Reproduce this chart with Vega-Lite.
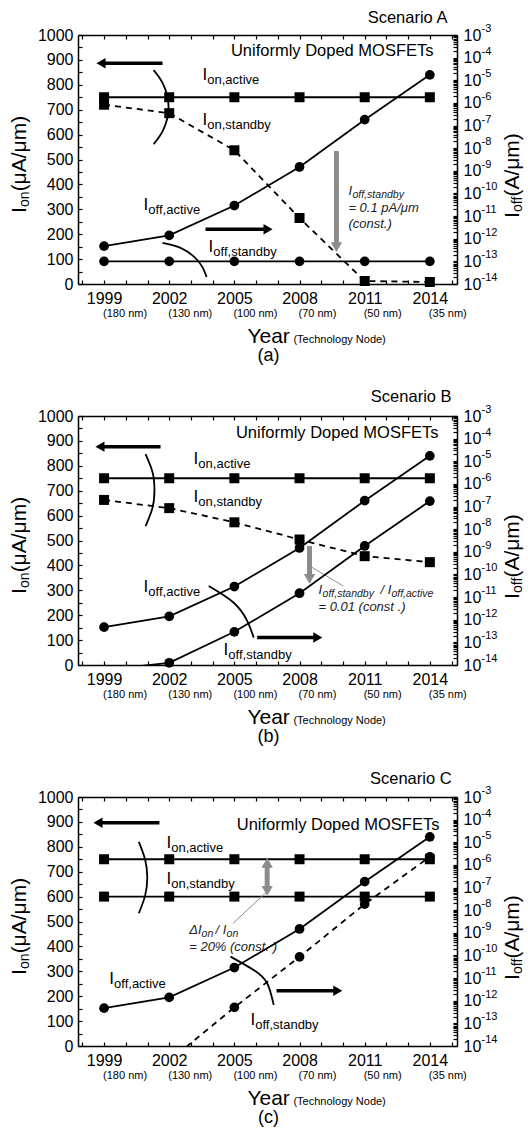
{
"$schema":"https://vega.github.io/schema/vega-lite/v6.json",
"background":"white",
"padding":{"left":9,"top":9,"right":2,"bottom":2},
"bounds":"flush",
"spacing":132,
"config":{"view":{"stroke":null},"font":"Liberation Sans","axis":{"domainColor":"black","domainWidth":1.5,"tickColor":"black","tickWidth":1.2,"tickSize":-4,"labelColor":"black","labelFontSize":16,"labelFont":"Liberation Sans","grid":false,"labelOverlap":false,"labelFlush":false}},
"datasets":{
"ion":[
{"p":"A","s":"act","x":1999,"y":750},{"p":"A","s":"act","x":2002,"y":750},{"p":"A","s":"act","x":2005,"y":750},{"p":"A","s":"act","x":2008,"y":750},{"p":"A","s":"act","x":2011,"y":750},{"p":"A","s":"act","x":2014,"y":750},
{"p":"A","s":"sb","x":1999,"y":720},{"p":"A","s":"sb","x":2002,"y":686},{"p":"A","s":"sb","x":2005,"y":537},{"p":"A","s":"sb","x":2008,"y":265},{"p":"A","s":"sb","x":2011,"y":12},{"p":"A","s":"sb","x":2014,"y":8},
{"p":"B","s":"act","x":1999,"y":750},{"p":"B","s":"act","x":2002,"y":750},{"p":"B","s":"act","x":2005,"y":750},{"p":"B","s":"act","x":2008,"y":750},{"p":"B","s":"act","x":2011,"y":750},{"p":"B","s":"act","x":2014,"y":750},
{"p":"B","s":"sb","x":1999,"y":663},{"p":"B","s":"sb","x":2002,"y":630},{"p":"B","s":"sb","x":2005,"y":573},{"p":"B","s":"sb","x":2008,"y":504},{"p":"B","s":"sb","x":2011,"y":437},{"p":"B","s":"sb","x":2014,"y":413},
{"p":"C","s":"act","x":1999,"y":750},{"p":"C","s":"act","x":2002,"y":750},{"p":"C","s":"act","x":2005,"y":750},{"p":"C","s":"act","x":2008,"y":750},{"p":"C","s":"act","x":2011,"y":750},{"p":"C","s":"act","x":2014,"y":750},
{"p":"C","s":"sb","x":1999,"y":600},{"p":"C","s":"sb","x":2002,"y":600},{"p":"C","s":"sb","x":2005,"y":600},{"p":"C","s":"sb","x":2008,"y":600},{"p":"C","s":"sb","x":2011,"y":600},{"p":"C","s":"sb","x":2014,"y":600}
],
"ioff":[
{"p":"A","s":"act","x":1999,"y":4.7e-13},{"p":"A","s":"act","x":2002,"y":1.4e-12},{"p":"A","s":"act","x":2005,"y":2.92e-11},{"p":"A","s":"act","x":2008,"y":1.48e-9},{"p":"A","s":"act","x":2011,"y":1.82e-7},{"p":"A","s":"act","x":2014,"y":1.74e-5},
{"p":"A","s":"sb","x":1999,"y":1e-13},{"p":"A","s":"sb","x":2002,"y":1e-13},{"p":"A","s":"sb","x":2005,"y":1e-13},{"p":"A","s":"sb","x":2008,"y":1e-13},{"p":"A","s":"sb","x":2011,"y":1e-13},{"p":"A","s":"sb","x":2014,"y":1e-13},
{"p":"B","s":"act","x":1999,"y":4.7e-13},{"p":"B","s":"act","x":2002,"y":1.4e-12},{"p":"B","s":"act","x":2005,"y":2.92e-11},{"p":"B","s":"act","x":2008,"y":1.48e-9},{"p":"B","s":"act","x":2011,"y":1.82e-7},{"p":"B","s":"act","x":2014,"y":1.74e-5},
{"p":"B","s":"sb","x":1999,"y":6e-15},{"p":"B","s":"sb","x":2002,"y":1.25e-14},{"p":"B","s":"sb","x":2005,"y":2.92e-13},{"p":"B","s":"sb","x":2008,"y":1.48e-11},{"p":"B","s":"sb","x":2011,"y":1.82e-9},{"p":"B","s":"sb","x":2014,"y":1.74e-7},
{"p":"C","s":"act","x":1999,"y":4.7e-13},{"p":"C","s":"act","x":2002,"y":1.4e-12},{"p":"C","s":"act","x":2005,"y":2.92e-11},{"p":"C","s":"act","x":2008,"y":1.48e-9},{"p":"C","s":"act","x":2011,"y":1.82e-7},{"p":"C","s":"act","x":2014,"y":1.74e-5},
{"p":"C","s":"sb","x":2002,"y":2.2e-15},{"p":"C","s":"sb","x":2005,"y":5.07e-13},{"p":"C","s":"sb","x":2008,"y":8.7e-11},{"p":"C","s":"sb","x":2011,"y":1.86e-8},{"p":"C","s":"sb","x":2014,"y":2.29e-6}
],
"arc":[
{"p":"A","id":"b","i":0,"x":2001.28,"y":859},{"p":"A","id":"b","i":1,"x":2001.72,"y":803},{"p":"A","id":"b","i":2,"x":2001.97,"y":711},{"p":"A","id":"b","i":3,"x":2001.72,"y":618},{"p":"A","id":"b","i":4,"x":2001.28,"y":562},
{"p":"A","id":"c","i":0,"x":2001.69,"y":165},{"p":"A","id":"c","i":1,"x":2002.52,"y":145},{"p":"A","id":"c","i":2,"x":2003.16,"y":108},{"p":"A","id":"c","i":3,"x":2003.53,"y":68},{"p":"A","id":"c","i":4,"x":2003.72,"y":28},
{"p":"B","id":"b","i":0,"x":2000.91,"y":847},{"p":"B","id":"b","i":1,"x":2001.23,"y":775},{"p":"B","id":"b","i":2,"x":2001.32,"y":703},{"p":"B","id":"b","i":3,"x":2001.23,"y":631},{"p":"B","id":"b","i":4,"x":2000.91,"y":558},
{"p":"B","id":"c","i":0,"x":2003.82,"y":317},{"p":"B","id":"c","i":1,"x":2004.97,"y":250},{"p":"B","id":"c","i":2,"x":2005.59,"y":177},{"p":"B","id":"c","i":3,"x":2005.89,"y":110},
{"p":"C","id":"b","i":0,"x":2000.6,"y":820},{"p":"C","id":"b","i":1,"x":2000.89,"y":749},{"p":"C","id":"b","i":2,"x":2000.99,"y":677},{"p":"C","id":"b","i":3,"x":2000.89,"y":604},{"p":"C","id":"b","i":4,"x":2000.6,"y":533},
{"p":"C","id":"c","i":0,"x":2004.82,"y":359},{"p":"C","id":"c","i":1,"x":2005.89,"y":305},{"p":"C","id":"c","i":2,"x":2006.51,"y":252},{"p":"C","id":"c","i":3,"x":2006.81,"y":165}
],
"rul":[
{"p":"A","k":"blk","x":1998.95,"x2":2001.69,"y":887,"y2":887},{"p":"A","k":"blk","x":2003.67,"x2":2006.45,"y":220,"y2":220},{"p":"A","k":"gry","x":2009.7,"x2":2009.7,"y":534,"y2":155},
{"p":"B","k":"blk","x":1998.9,"x2":2001.6,"y":877,"y2":877},{"p":"B","k":"blk","x":2006.05,"x2":2008.75,"y":110,"y2":110},{"p":"B","k":"gry","x":2008.46,"x2":2008.46,"y":478,"y2":352},{"p":"B","k":"thin","x":2008.46,"x2":2010.02,"y":398,"y2":317},
{"p":"C","k":"blk","x":1998.81,"x2":2001.55,"y":897,"y2":897},{"p":"C","k":"blk","x":2006.94,"x2":2009.66,"y":222,"y2":222},{"p":"C","k":"gry","x":2006.51,"x2":2006.51,"y":630,"y2":730},{"p":"C","k":"thin","x":2006.51,"x2":2004.93,"y":621,"y2":492}
],
"shp":[
{"p":"A","k":"L","x":1998.86,"y":887},{"p":"A","k":"R","x":2006.55,"y":220},{"p":"A","k":"GD","x":2009.7,"y":148},
{"p":"B","k":"L","x":1998.81,"y":877},{"p":"B","k":"R","x":2008.84,"y":110},{"p":"B","k":"GD","x":2008.46,"y":346},
{"p":"C","k":"L","x":1998.72,"y":897},{"p":"C","k":"R","x":2009.76,"y":222},{"p":"C","k":"GU","x":2006.51,"y":736},{"p":"C","k":"GD","x":2006.51,"y":623}
],
"exp":[
{"x":2016.38,"y":1e-3,"t":"-3"},{"x":2016.38,"y":1e-4,"t":"-4"},{"x":2016.38,"y":1e-5,"t":"-5"},{"x":2016.38,"y":1e-6,"t":"-6"},{"x":2016.38,"y":1e-7,"t":"-7"},{"x":2016.38,"y":1e-8,"t":"-8"},{"x":2016.38,"y":1e-9,"t":"-9"},{"x":2016.38,"y":1e-10,"t":"-10"},{"x":2016.38,"y":1e-11,"t":"-11"},{"x":2016.38,"y":1e-12,"t":"-12"},{"x":2016.38,"y":1e-13,"t":"-13"},{"x":2016.38,"y":1e-14,"t":"-14"}
],
"txt":[
{"k":"nm","p":"*","x":1999,"y":-120,"t":"(180 nm)"},{"k":"nm","p":"*","x":2002,"y":-120,"t":"(130 nm)"},{"k":"nm","p":"*","x":2005,"y":-120,"t":"(100 nm)"},{"k":"nm","p":"*","x":2008,"y":-120,"t":"(70 nm)"},{"k":"nm","p":"*","x":2011,"y":-120,"t":"(50 nm)"},{"k":"nm","p":"*","x":2014,"y":-120,"t":"(35 nm)"},
{"k":"yr","p":"*","x":2005.6,"y":-237,"t":"Year"},{"k":"tn","p":"*","x":2007.72,"y":-237,"t":"(Technology Node)"},
{"k":"rot","p":"*","x":1995.15,"y":285,"t":"I"},{"k":"rots","p":"*","x":1995.15,"y":309,"t":"on"},{"k":"rot","p":"*","x":1995.15,"y":372,"t":"(μA/μm)"},
{"k":"rot","p":"*","x":2017.85,"y":265,"t":"I"},{"k":"rots","p":"*","x":2017.85,"y":289,"t":"off"},{"k":"rot","p":"*","x":2017.85,"y":351,"t":"(A/μm)"},
{"k":"lab","p":"A","x":2003.53,"y":840,"t":"I"},{"k":"lab","p":"A","x":2003.53,"y":657,"t":"I"},{"k":"lab","p":"A","x":2000.82,"y":318,"t":"I"},{"k":"lab","p":"A","x":2003.81,"y":150,"t":"I"},
{"k":"sub","p":"A","x":2003.75,"y":840,"t":"on,active"},{"k":"sub","p":"A","x":2003.75,"y":657,"t":"on,standby"},{"k":"sub","p":"A","x":2001.04,"y":318,"t":"off,active"},{"k":"sub","p":"A","x":2004.03,"y":150,"t":"off,standby"},
{"k":"it","p":"A","x":2010.25,"y":373,"t":"I"},{"k":"it","p":"A","x":2010.25,"y":305,"t":"= 0.1 pA/μm"},{"k":"it","p":"A","x":2010.25,"y":241,"t":"(const.)"},
{"k":"its","p":"A","x":2010.44,"y":373,"t":"off,standby"},
{"k":"rt","p":"A","x":2014.17,"y":936,"t":"Uniformly Doped MOSFETs"},{"k":"rt","p":"A","x":2014.81,"y":1070,"t":"Scenario A"},
{"k":"cap","p":"A","x":2006.57,"y":-289,"t":"(a)"},
{"k":"lab","p":"B","x":2003.12,"y":829,"t":"I"},{"k":"lab","p":"B","x":2003.12,"y":675,"t":"I"},{"k":"lab","p":"B","x":2000.82,"y":313,"t":"I"},{"k":"lab","p":"B","x":2004.5,"y":60,"t":"I"},
{"k":"sub","p":"B","x":2003.34,"y":829,"t":"on,active"},{"k":"sub","p":"B","x":2003.34,"y":675,"t":"on,standby"},{"k":"sub","p":"B","x":2001.04,"y":313,"t":"off,active"},{"k":"sub","p":"B","x":2004.72,"y":60,"t":"off,standby"},
{"k":"it","p":"B","x":2008.87,"y":303,"t":"I"},{"k":"it","p":"B","x":2011.73,"y":303,"t":"/ I"},{"k":"it","p":"B","x":2008.87,"y":233,"t":"= 0.01 (const .)"},
{"k":"its","p":"B","x":2009.06,"y":303,"t":"off,standby"},{"k":"its","p":"B","x":2012.23,"y":303,"t":"off,active"},
{"k":"rt","p":"B","x":2014.4,"y":930,"t":"Uniformly Doped MOSFETs"},{"k":"rt","p":"B","x":2015.0,"y":1075,"t":"Scenario B"},
{"k":"cap","p":"B","x":2006.57,"y":-289,"t":"(b)"},
{"k":"lab","p":"C","x":2001.87,"y":816,"t":"I"},{"k":"lab","p":"C","x":2001.87,"y":669,"t":"I"},{"k":"lab","p":"C","x":1999.24,"y":271,"t":"I"},{"k":"lab","p":"C","x":2005.74,"y":104,"t":"I"},
{"k":"sub","p":"C","x":2002.09,"y":816,"t":"on,active"},{"k":"sub","p":"C","x":2002.09,"y":669,"t":"on,standby"},{"k":"sub","p":"C","x":1999.46,"y":271,"t":"off,active"},{"k":"sub","p":"C","x":2005.96,"y":104,"t":"off,standby"},
{"k":"it","p":"C","x":2002.92,"y":466,"t":"ΔI"},{"k":"it","p":"C","x":2004.13,"y":466,"t":"/ I"},{"k":"it","p":"C","x":2002.92,"y":398,"t":"= 20% (const. )"},
{"k":"its","p":"C","x":2003.49,"y":466,"t":"on"},{"k":"its","p":"C","x":2004.64,"y":466,"t":"on"},
{"k":"rt","p":"C","x":2014.44,"y":887,"t":"Uniformly Doped MOSFETs"},{"k":"rt","p":"C","x":2015.0,"y":1074,"t":"Scenario C"},
{"k":"cap","p":"C","x":2006.57,"y":-289,"t":"(c)"}
]
},
"vconcat":[
{"width":379,"height":249,
"resolve":{"scale":{"y":"independent"},"axis":{"x":"independent","y":"independent"}},
"layer":[
{"encoding":{
"x":{"field":"x","type":"quantitative","scale":{"domain":[1997.8,2015.25],"nice":false,"zero":false},"axis":{"orient":"bottom","title":null,"values":[1998,1999,2000,2001,2002,2003,2004,2005,2006,2007,2008,2009,2010,2011,2012,2013,2014,2015],"format":"d","labelExpr":"(datum.value-1999)%3==0 ? datum.label : ''","labelPadding":10}},
"y":{"field":"y","type":"quantitative","scale":{"domain":[0,1000],"nice":false,"zero":false},"axis":{"orient":"left","title":null,"values":[0,50,100,150,200,250,300,350,400,450,500,550,600,650,700,750,800,850,900,950,1000],"format":"d","labelExpr":"datum.value%100==0 ? datum.label : ''","labelPadding":9}}},
"layer":[
{"data":{"name":"ion"},"transform":[{"filter":"datum.p=='A' && datum.s=='act'"}],"mark":{"type":"line","color":"black","strokeWidth":1.8},"encoding":{"detail":{"field":"s"}}},
{"data":{"name":"ion"},"transform":[{"filter":"datum.p=='A' && datum.s=='sb'"}],"mark":{"type":"line","color":"black","strokeWidth":1.8,"strokeDash":[6,5]},"encoding":{"detail":{"field":"s"}}},
{"data":{"name":"ion"},"transform":[{"filter":"datum.p=='A'"}],"mark":{"type":"point","shape":"square","filled":true,"size":100,"color":"black","opacity":1}},
{"data":{"name":"arc"},"transform":[{"filter":"datum.p=='A'"}],"mark":{"type":"line","color":"black","strokeWidth":1.8,"interpolate":"natural"},"encoding":{"detail":{"field":"id"},"order":{"field":"i"}}},
{"data":{"name":"rul"},"transform":[{"filter":"datum.p=='A' && datum.k=='blk'"}],"mark":{"type":"rule","color":"black","strokeWidth":3.5},"encoding":{"x2":{"field":"x2"},"y2":{"field":"y2"}}},
{"data":{"name":"rul"},"transform":[{"filter":"datum.p=='A' && datum.k=='gry'"}],"mark":{"type":"rule","color":"#8c8c8c","strokeWidth":5},"encoding":{"x2":{"field":"x2"},"y2":{"field":"y2"}}},
{"data":{"name":"rul"},"transform":[{"filter":"datum.p=='A' && datum.k=='thin'"}],"mark":{"type":"rule","color":"#8c8c8c","strokeWidth":1},"encoding":{"x2":{"field":"x2"},"y2":{"field":"y2"}}},
{"data":{"name":"shp"},"transform":[{"filter":"datum.p=='A' && datum.k=='L'"}],"mark":{"type":"point","shape":"triangle-left","filled":true,"size":110,"color":"black","opacity":1}},
{"data":{"name":"shp"},"transform":[{"filter":"datum.p=='A' && datum.k=='R'"}],"mark":{"type":"point","shape":"triangle-right","filled":true,"size":110,"color":"black","opacity":1}},
{"data":{"name":"shp"},"transform":[{"filter":"datum.p=='A' && datum.k=='GU'"}],"mark":{"type":"point","shape":"triangle-up","filled":true,"size":130,"color":"#8c8c8c","opacity":1}},
{"data":{"name":"shp"},"transform":[{"filter":"datum.p=='A' && datum.k=='GD'"}],"mark":{"type":"point","shape":"triangle-down","filled":true,"size":130,"color":"#8c8c8c","opacity":1}},
{"data":{"name":"txt"},"transform":[{"filter":"(datum.p=='A'||datum.p=='*') && datum.k=='lab'"}],"mark":{"type":"text","align":"left","baseline":"middle","fontSize":17,"color":"black"},"encoding":{"text":{"field":"t"}}},
{"data":{"name":"txt"},"transform":[{"filter":"(datum.p=='A'||datum.p=='*') && datum.k=='sub'"}],"mark":{"type":"text","align":"left","baseline":"middle","fontSize":13,"dy":5,"color":"black"},"encoding":{"text":{"field":"t"}}},
{"data":{"name":"txt"},"transform":[{"filter":"(datum.p=='A'||datum.p=='*') && datum.k=='it'"}],"mark":{"type":"text","align":"left","baseline":"middle","fontSize":13,"fontStyle":"italic","color":"#222"},"encoding":{"text":{"field":"t"}}},
{"data":{"name":"txt"},"transform":[{"filter":"(datum.p=='A'||datum.p=='*') && datum.k=='its'"}],"mark":{"type":"text","align":"left","baseline":"middle","fontSize":10.5,"fontStyle":"italic","dy":4,"color":"#222"},"encoding":{"text":{"field":"t"}}},
{"data":{"name":"txt"},"transform":[{"filter":"(datum.p=='A'||datum.p=='*') && datum.k=='rt'"}],"mark":{"type":"text","align":"right","baseline":"middle","fontSize":16.5,"color":"black"},"encoding":{"text":{"field":"t"}}},
{"data":{"name":"txt"},"transform":[{"filter":"(datum.p=='A'||datum.p=='*') && datum.k=='cap'"}],"mark":{"type":"text","align":"center","baseline":"middle","fontSize":18,"color":"black"},"encoding":{"text":{"field":"t"}}},
{"data":{"name":"txt"},"transform":[{"filter":"(datum.p=='A'||datum.p=='*') && datum.k=='nm'"}],"mark":{"type":"text","align":"left","baseline":"middle","fontSize":11,"dx":-1,"color":"black"},"encoding":{"text":{"field":"t"}}},
{"data":{"name":"txt"},"transform":[{"filter":"(datum.p=='A'||datum.p=='*') && datum.k=='yr'"}],"mark":{"type":"text","align":"left","baseline":"alphabetic","fontSize":21,"color":"black"},"encoding":{"text":{"field":"t"}}},
{"data":{"name":"txt"},"transform":[{"filter":"(datum.p=='A'||datum.p=='*') && datum.k=='tn'"}],"mark":{"type":"text","align":"left","baseline":"alphabetic","fontSize":11,"color":"black"},"encoding":{"text":{"field":"t"}}},
{"data":{"name":"txt"},"transform":[{"filter":"(datum.p=='A'||datum.p=='*') && datum.k=='rot'"}],"mark":{"type":"text","align":"left","baseline":"middle","angle":270,"fontSize":21,"color":"black"},"encoding":{"text":{"field":"t"}}},
{"data":{"name":"txt"},"transform":[{"filter":"(datum.p=='A'||datum.p=='*') && datum.k=='rots'"}],"mark":{"type":"text","align":"left","baseline":"middle","angle":270,"fontSize":14,"dy":5,"color":"black"},"encoding":{"text":{"field":"t"}}}
]},
{"encoding":{
"x":{"field":"x","type":"quantitative","scale":{"domain":[1997.8,2015.25],"nice":false,"zero":false},"axis":{"orient":"top","title":null,"values":[1998,1999,2000,2001,2002,2003,2004,2005,2006,2007,2008,2009,2010,2011,2012,2013,2014,2015],"labels":false}},
"y":{"field":"y","type":"quantitative","scale":{"type":"log","domain":[1e-14,1e-3],"nice":false},"axis":{"orient":"right","title":null,"values":[1e-14,2e-14,3e-14,4e-14,5e-14,6e-14,7e-14,8e-14,9e-14,1e-13,2e-13,3e-13,4e-13,5e-13,6e-13,7e-13,8e-13,9e-13,1e-12,2e-12,3e-12,4e-12,5e-12,6e-12,7e-12,8e-12,9e-12,1e-11,2e-11,3e-11,4e-11,5e-11,6e-11,7e-11,8e-11,9e-11,1e-10,2e-10,3e-10,4e-10,5e-10,6e-10,7e-10,8e-10,9e-10,1e-9,2e-9,3e-9,4e-9,5e-9,6e-9,7e-9,8e-9,9e-9,1e-8,2e-8,3e-8,4e-8,5e-8,6e-8,7e-8,8e-8,9e-8,1e-7,2e-7,3e-7,4e-7,5e-7,6e-7,7e-7,8e-7,9e-7,1e-6,2e-6,3e-6,4e-6,5e-6,6e-6,7e-6,8e-6,9e-6,1e-5,2e-5,3e-5,4e-5,5e-5,6e-5,7e-5,8e-5,9e-5,1e-4,2e-4,3e-4,4e-4,5e-4,6e-4,7e-4,8e-4,9e-4,1e-3],"labelExpr":"abs(log(datum.value)/LN10 - round(log(datum.value)/LN10)) < 0.01 ? '10' : ''","labelPadding":10}}},
"layer":[
{"data":{"name":"ioff"},"transform":[{"filter":"datum.p=='A'"}],"mark":{"type":"line","color":"black","strokeWidth":1.8,"clip":true},"encoding":{"detail":{"field":"s"}}},
{"data":{"name":"ioff"},"transform":[{"filter":"datum.p=='A' && datum.y>=1e-14"}],"mark":{"type":"point","shape":"circle","filled":true,"size":95,"color":"black","opacity":1}},
{"data":{"name":"exp"},"mark":{"type":"text","align":"left","baseline":"middle","fontSize":11,"dy":-6,"color":"black"},"encoding":{"text":{"field":"t"}}}
]}
]},
{"width":379,"height":249,
"resolve":{"scale":{"y":"independent"},"axis":{"x":"independent","y":"independent"}},
"layer":[
{"encoding":{
"x":{"field":"x","type":"quantitative","scale":{"domain":[1997.8,2015.25],"nice":false,"zero":false},"axis":{"orient":"bottom","title":null,"values":[1998,1999,2000,2001,2002,2003,2004,2005,2006,2007,2008,2009,2010,2011,2012,2013,2014,2015],"format":"d","labelExpr":"(datum.value-1999)%3==0 ? datum.label : ''","labelPadding":10}},
"y":{"field":"y","type":"quantitative","scale":{"domain":[0,1000],"nice":false,"zero":false},"axis":{"orient":"left","title":null,"values":[0,50,100,150,200,250,300,350,400,450,500,550,600,650,700,750,800,850,900,950,1000],"format":"d","labelExpr":"datum.value%100==0 ? datum.label : ''","labelPadding":9}}},
"layer":[
{"data":{"name":"ion"},"transform":[{"filter":"datum.p=='B' && datum.s=='act'"}],"mark":{"type":"line","color":"black","strokeWidth":1.8},"encoding":{"detail":{"field":"s"}}},
{"data":{"name":"ion"},"transform":[{"filter":"datum.p=='B' && datum.s=='sb'"}],"mark":{"type":"line","color":"black","strokeWidth":1.8,"strokeDash":[6,5]},"encoding":{"detail":{"field":"s"}}},
{"data":{"name":"ion"},"transform":[{"filter":"datum.p=='B'"}],"mark":{"type":"point","shape":"square","filled":true,"size":100,"color":"black","opacity":1}},
{"data":{"name":"arc"},"transform":[{"filter":"datum.p=='B'"}],"mark":{"type":"line","color":"black","strokeWidth":1.8,"interpolate":"natural"},"encoding":{"detail":{"field":"id"},"order":{"field":"i"}}},
{"data":{"name":"rul"},"transform":[{"filter":"datum.p=='B' && datum.k=='blk'"}],"mark":{"type":"rule","color":"black","strokeWidth":3.5},"encoding":{"x2":{"field":"x2"},"y2":{"field":"y2"}}},
{"data":{"name":"rul"},"transform":[{"filter":"datum.p=='B' && datum.k=='gry'"}],"mark":{"type":"rule","color":"#8c8c8c","strokeWidth":5},"encoding":{"x2":{"field":"x2"},"y2":{"field":"y2"}}},
{"data":{"name":"rul"},"transform":[{"filter":"datum.p=='B' && datum.k=='thin'"}],"mark":{"type":"rule","color":"#8c8c8c","strokeWidth":1},"encoding":{"x2":{"field":"x2"},"y2":{"field":"y2"}}},
{"data":{"name":"shp"},"transform":[{"filter":"datum.p=='B' && datum.k=='L'"}],"mark":{"type":"point","shape":"triangle-left","filled":true,"size":110,"color":"black","opacity":1}},
{"data":{"name":"shp"},"transform":[{"filter":"datum.p=='B' && datum.k=='R'"}],"mark":{"type":"point","shape":"triangle-right","filled":true,"size":110,"color":"black","opacity":1}},
{"data":{"name":"shp"},"transform":[{"filter":"datum.p=='B' && datum.k=='GU'"}],"mark":{"type":"point","shape":"triangle-up","filled":true,"size":130,"color":"#8c8c8c","opacity":1}},
{"data":{"name":"shp"},"transform":[{"filter":"datum.p=='B' && datum.k=='GD'"}],"mark":{"type":"point","shape":"triangle-down","filled":true,"size":130,"color":"#8c8c8c","opacity":1}},
{"data":{"name":"txt"},"transform":[{"filter":"(datum.p=='B'||datum.p=='*') && datum.k=='lab'"}],"mark":{"type":"text","align":"left","baseline":"middle","fontSize":17,"color":"black"},"encoding":{"text":{"field":"t"}}},
{"data":{"name":"txt"},"transform":[{"filter":"(datum.p=='B'||datum.p=='*') && datum.k=='sub'"}],"mark":{"type":"text","align":"left","baseline":"middle","fontSize":13,"dy":5,"color":"black"},"encoding":{"text":{"field":"t"}}},
{"data":{"name":"txt"},"transform":[{"filter":"(datum.p=='B'||datum.p=='*') && datum.k=='it'"}],"mark":{"type":"text","align":"left","baseline":"middle","fontSize":13,"fontStyle":"italic","color":"#222"},"encoding":{"text":{"field":"t"}}},
{"data":{"name":"txt"},"transform":[{"filter":"(datum.p=='B'||datum.p=='*') && datum.k=='its'"}],"mark":{"type":"text","align":"left","baseline":"middle","fontSize":10.5,"fontStyle":"italic","dy":4,"color":"#222"},"encoding":{"text":{"field":"t"}}},
{"data":{"name":"txt"},"transform":[{"filter":"(datum.p=='B'||datum.p=='*') && datum.k=='rt'"}],"mark":{"type":"text","align":"right","baseline":"middle","fontSize":16.5,"color":"black"},"encoding":{"text":{"field":"t"}}},
{"data":{"name":"txt"},"transform":[{"filter":"(datum.p=='B'||datum.p=='*') && datum.k=='cap'"}],"mark":{"type":"text","align":"center","baseline":"middle","fontSize":18,"color":"black"},"encoding":{"text":{"field":"t"}}},
{"data":{"name":"txt"},"transform":[{"filter":"(datum.p=='B'||datum.p=='*') && datum.k=='nm'"}],"mark":{"type":"text","align":"left","baseline":"middle","fontSize":11,"dx":-1,"color":"black"},"encoding":{"text":{"field":"t"}}},
{"data":{"name":"txt"},"transform":[{"filter":"(datum.p=='B'||datum.p=='*') && datum.k=='yr'"}],"mark":{"type":"text","align":"left","baseline":"alphabetic","fontSize":21,"color":"black"},"encoding":{"text":{"field":"t"}}},
{"data":{"name":"txt"},"transform":[{"filter":"(datum.p=='B'||datum.p=='*') && datum.k=='tn'"}],"mark":{"type":"text","align":"left","baseline":"alphabetic","fontSize":11,"color":"black"},"encoding":{"text":{"field":"t"}}},
{"data":{"name":"txt"},"transform":[{"filter":"(datum.p=='B'||datum.p=='*') && datum.k=='rot'"}],"mark":{"type":"text","align":"left","baseline":"middle","angle":270,"fontSize":21,"color":"black"},"encoding":{"text":{"field":"t"}}},
{"data":{"name":"txt"},"transform":[{"filter":"(datum.p=='B'||datum.p=='*') && datum.k=='rots'"}],"mark":{"type":"text","align":"left","baseline":"middle","angle":270,"fontSize":14,"dy":5,"color":"black"},"encoding":{"text":{"field":"t"}}}
]},
{"encoding":{
"x":{"field":"x","type":"quantitative","scale":{"domain":[1997.8,2015.25],"nice":false,"zero":false},"axis":{"orient":"top","title":null,"values":[1998,1999,2000,2001,2002,2003,2004,2005,2006,2007,2008,2009,2010,2011,2012,2013,2014,2015],"labels":false}},
"y":{"field":"y","type":"quantitative","scale":{"type":"log","domain":[1e-14,1e-3],"nice":false},"axis":{"orient":"right","title":null,"values":[1e-14,2e-14,3e-14,4e-14,5e-14,6e-14,7e-14,8e-14,9e-14,1e-13,2e-13,3e-13,4e-13,5e-13,6e-13,7e-13,8e-13,9e-13,1e-12,2e-12,3e-12,4e-12,5e-12,6e-12,7e-12,8e-12,9e-12,1e-11,2e-11,3e-11,4e-11,5e-11,6e-11,7e-11,8e-11,9e-11,1e-10,2e-10,3e-10,4e-10,5e-10,6e-10,7e-10,8e-10,9e-10,1e-9,2e-9,3e-9,4e-9,5e-9,6e-9,7e-9,8e-9,9e-9,1e-8,2e-8,3e-8,4e-8,5e-8,6e-8,7e-8,8e-8,9e-8,1e-7,2e-7,3e-7,4e-7,5e-7,6e-7,7e-7,8e-7,9e-7,1e-6,2e-6,3e-6,4e-6,5e-6,6e-6,7e-6,8e-6,9e-6,1e-5,2e-5,3e-5,4e-5,5e-5,6e-5,7e-5,8e-5,9e-5,1e-4,2e-4,3e-4,4e-4,5e-4,6e-4,7e-4,8e-4,9e-4,1e-3],"labelExpr":"abs(log(datum.value)/LN10 - round(log(datum.value)/LN10)) < 0.01 ? '10' : ''","labelPadding":10}}},
"layer":[
{"data":{"name":"ioff"},"transform":[{"filter":"datum.p=='B'"}],"mark":{"type":"line","color":"black","strokeWidth":1.8,"clip":true},"encoding":{"detail":{"field":"s"}}},
{"data":{"name":"ioff"},"transform":[{"filter":"datum.p=='B' && datum.y>=1e-14"}],"mark":{"type":"point","shape":"circle","filled":true,"size":95,"color":"black","opacity":1}},
{"data":{"name":"exp"},"mark":{"type":"text","align":"left","baseline":"middle","fontSize":11,"dy":-6,"color":"black"},"encoding":{"text":{"field":"t"}}}
]}
]},
{"width":379,"height":249,
"resolve":{"scale":{"y":"independent"},"axis":{"x":"independent","y":"independent"}},
"layer":[
{"encoding":{
"x":{"field":"x","type":"quantitative","scale":{"domain":[1997.8,2015.25],"nice":false,"zero":false},"axis":{"orient":"bottom","title":null,"values":[1998,1999,2000,2001,2002,2003,2004,2005,2006,2007,2008,2009,2010,2011,2012,2013,2014,2015],"format":"d","labelExpr":"(datum.value-1999)%3==0 ? datum.label : ''","labelPadding":10}},
"y":{"field":"y","type":"quantitative","scale":{"domain":[0,1000],"nice":false,"zero":false},"axis":{"orient":"left","title":null,"values":[0,50,100,150,200,250,300,350,400,450,500,550,600,650,700,750,800,850,900,950,1000],"format":"d","labelExpr":"datum.value%100==0 ? datum.label : ''","labelPadding":9}}},
"layer":[
{"data":{"name":"ion"},"transform":[{"filter":"datum.p=='C'"}],"mark":{"type":"line","color":"black","strokeWidth":1.8},"encoding":{"detail":{"field":"s"}}},
{"data":{"name":"ion"},"transform":[{"filter":"datum.p=='C'"}],"mark":{"type":"point","shape":"square","filled":true,"size":100,"color":"black","opacity":1}},
{"data":{"name":"arc"},"transform":[{"filter":"datum.p=='C'"}],"mark":{"type":"line","color":"black","strokeWidth":1.8,"interpolate":"natural"},"encoding":{"detail":{"field":"id"},"order":{"field":"i"}}},
{"data":{"name":"rul"},"transform":[{"filter":"datum.p=='C' && datum.k=='blk'"}],"mark":{"type":"rule","color":"black","strokeWidth":3.5},"encoding":{"x2":{"field":"x2"},"y2":{"field":"y2"}}},
{"data":{"name":"rul"},"transform":[{"filter":"datum.p=='C' && datum.k=='gry'"}],"mark":{"type":"rule","color":"#8c8c8c","strokeWidth":5},"encoding":{"x2":{"field":"x2"},"y2":{"field":"y2"}}},
{"data":{"name":"rul"},"transform":[{"filter":"datum.p=='C' && datum.k=='thin'"}],"mark":{"type":"rule","color":"#8c8c8c","strokeWidth":1},"encoding":{"x2":{"field":"x2"},"y2":{"field":"y2"}}},
{"data":{"name":"shp"},"transform":[{"filter":"datum.p=='C' && datum.k=='L'"}],"mark":{"type":"point","shape":"triangle-left","filled":true,"size":110,"color":"black","opacity":1}},
{"data":{"name":"shp"},"transform":[{"filter":"datum.p=='C' && datum.k=='R'"}],"mark":{"type":"point","shape":"triangle-right","filled":true,"size":110,"color":"black","opacity":1}},
{"data":{"name":"shp"},"transform":[{"filter":"datum.p=='C' && datum.k=='GU'"}],"mark":{"type":"point","shape":"triangle-up","filled":true,"size":130,"color":"#8c8c8c","opacity":1}},
{"data":{"name":"shp"},"transform":[{"filter":"datum.p=='C' && datum.k=='GD'"}],"mark":{"type":"point","shape":"triangle-down","filled":true,"size":130,"color":"#8c8c8c","opacity":1}},
{"data":{"name":"txt"},"transform":[{"filter":"(datum.p=='C'||datum.p=='*') && datum.k=='lab'"}],"mark":{"type":"text","align":"left","baseline":"middle","fontSize":17,"color":"black"},"encoding":{"text":{"field":"t"}}},
{"data":{"name":"txt"},"transform":[{"filter":"(datum.p=='C'||datum.p=='*') && datum.k=='sub'"}],"mark":{"type":"text","align":"left","baseline":"middle","fontSize":13,"dy":5,"color":"black"},"encoding":{"text":{"field":"t"}}},
{"data":{"name":"txt"},"transform":[{"filter":"(datum.p=='C'||datum.p=='*') && datum.k=='it'"}],"mark":{"type":"text","align":"left","baseline":"middle","fontSize":13,"fontStyle":"italic","color":"#222"},"encoding":{"text":{"field":"t"}}},
{"data":{"name":"txt"},"transform":[{"filter":"(datum.p=='C'||datum.p=='*') && datum.k=='its'"}],"mark":{"type":"text","align":"left","baseline":"middle","fontSize":10.5,"fontStyle":"italic","dy":4,"color":"#222"},"encoding":{"text":{"field":"t"}}},
{"data":{"name":"txt"},"transform":[{"filter":"(datum.p=='C'||datum.p=='*') && datum.k=='rt'"}],"mark":{"type":"text","align":"right","baseline":"middle","fontSize":16.5,"color":"black"},"encoding":{"text":{"field":"t"}}},
{"data":{"name":"txt"},"transform":[{"filter":"(datum.p=='C'||datum.p=='*') && datum.k=='cap'"}],"mark":{"type":"text","align":"center","baseline":"middle","fontSize":18,"color":"black"},"encoding":{"text":{"field":"t"}}},
{"data":{"name":"txt"},"transform":[{"filter":"(datum.p=='C'||datum.p=='*') && datum.k=='nm'"}],"mark":{"type":"text","align":"left","baseline":"middle","fontSize":11,"dx":-1,"color":"black"},"encoding":{"text":{"field":"t"}}},
{"data":{"name":"txt"},"transform":[{"filter":"(datum.p=='C'||datum.p=='*') && datum.k=='yr'"}],"mark":{"type":"text","align":"left","baseline":"alphabetic","fontSize":21,"color":"black"},"encoding":{"text":{"field":"t"}}},
{"data":{"name":"txt"},"transform":[{"filter":"(datum.p=='C'||datum.p=='*') && datum.k=='tn'"}],"mark":{"type":"text","align":"left","baseline":"alphabetic","fontSize":11,"color":"black"},"encoding":{"text":{"field":"t"}}},
{"data":{"name":"txt"},"transform":[{"filter":"(datum.p=='C'||datum.p=='*') && datum.k=='rot'"}],"mark":{"type":"text","align":"left","baseline":"middle","angle":270,"fontSize":21,"color":"black"},"encoding":{"text":{"field":"t"}}},
{"data":{"name":"txt"},"transform":[{"filter":"(datum.p=='C'||datum.p=='*') && datum.k=='rots'"}],"mark":{"type":"text","align":"left","baseline":"middle","angle":270,"fontSize":14,"dy":5,"color":"black"},"encoding":{"text":{"field":"t"}}}
]},
{"encoding":{
"x":{"field":"x","type":"quantitative","scale":{"domain":[1997.8,2015.25],"nice":false,"zero":false},"axis":{"orient":"top","title":null,"values":[1998,1999,2000,2001,2002,2003,2004,2005,2006,2007,2008,2009,2010,2011,2012,2013,2014,2015],"labels":false}},
"y":{"field":"y","type":"quantitative","scale":{"type":"log","domain":[1e-14,1e-3],"nice":false},"axis":{"orient":"right","title":null,"values":[1e-14,2e-14,3e-14,4e-14,5e-14,6e-14,7e-14,8e-14,9e-14,1e-13,2e-13,3e-13,4e-13,5e-13,6e-13,7e-13,8e-13,9e-13,1e-12,2e-12,3e-12,4e-12,5e-12,6e-12,7e-12,8e-12,9e-12,1e-11,2e-11,3e-11,4e-11,5e-11,6e-11,7e-11,8e-11,9e-11,1e-10,2e-10,3e-10,4e-10,5e-10,6e-10,7e-10,8e-10,9e-10,1e-9,2e-9,3e-9,4e-9,5e-9,6e-9,7e-9,8e-9,9e-9,1e-8,2e-8,3e-8,4e-8,5e-8,6e-8,7e-8,8e-8,9e-8,1e-7,2e-7,3e-7,4e-7,5e-7,6e-7,7e-7,8e-7,9e-7,1e-6,2e-6,3e-6,4e-6,5e-6,6e-6,7e-6,8e-6,9e-6,1e-5,2e-5,3e-5,4e-5,5e-5,6e-5,7e-5,8e-5,9e-5,1e-4,2e-4,3e-4,4e-4,5e-4,6e-4,7e-4,8e-4,9e-4,1e-3],"labelExpr":"abs(log(datum.value)/LN10 - round(log(datum.value)/LN10)) < 0.01 ? '10' : ''","labelPadding":10}}},
"layer":[
{"data":{"name":"ioff"},"transform":[{"filter":"datum.p=='C' && datum.s=='act'"}],"mark":{"type":"line","color":"black","strokeWidth":1.8,"clip":true},"encoding":{"detail":{"field":"s"}}},
{"data":{"name":"ioff"},"transform":[{"filter":"datum.p=='C' && datum.s=='sb'"}],"mark":{"type":"line","color":"black","strokeWidth":1.8,"strokeDash":[6,5],"clip":true},"encoding":{"detail":{"field":"s"}}},
{"data":{"name":"ioff"},"transform":[{"filter":"datum.p=='C' && datum.y>=1e-14"}],"mark":{"type":"point","shape":"circle","filled":true,"size":95,"color":"black","opacity":1}},
{"data":{"name":"exp"},"mark":{"type":"text","align":"left","baseline":"middle","fontSize":11,"dy":-6,"color":"black"},"encoding":{"text":{"field":"t"}}}
]}
]}
]
}
